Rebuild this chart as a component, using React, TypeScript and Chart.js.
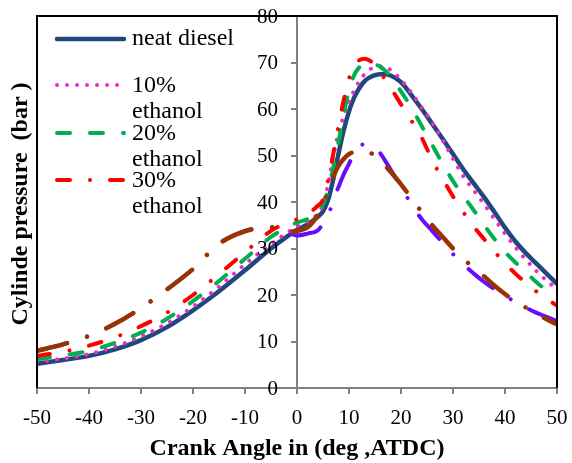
import React, { useEffect, useRef } from "react";
import { Chart, registerables } from "chart.js";

Chart.register(...registerables);

// Crank angle (deg ATDC)
const angles = [-50, -45, -40, -35, -30, -25, -20, -15, -10, -5, -2, 0, 2, 4, 5, 6, 7, 8, 9, 10, 11, 12, 13, 14, 15, 16, 17, 18, 20, 22, 24, 26, 28, 30, 32, 34, 36, 38, 40, 42, 44, 46, 48, 50];

const neatDiesel = [5.2, 6.0, 6.9, 8.3, 10.3, 13.1, 16.7, 20.8, 25.3, 30.0, 32.5, 34.0, 35.2, 36.8, 38.0, 40.5, 45.0, 50.5, 55.5, 59.5, 62.5, 64.5, 66.0, 66.8, 67.3, 67.5, 67.5, 67.2, 65.8, 63.0, 60.0, 56.8, 53.6, 50.3, 47.0, 44.0, 41.0, 37.8, 34.5, 31.5, 29.0, 26.8, 24.6, 22.4];

const ethanol10 = [5.6, 6.3, 7.3, 8.9, 11.1, 13.9, 17.5, 21.8, 26.6, 31.0, 33.3, 34.8, 35.8, 37.5, 39.5, 44.0, 50.0, 55.0, 58.5, 61.5, 64.0, 66.0, 67.5, 68.5, 69.0, 69.2, 69.0, 68.4, 66.3, 63.5, 60.3, 57.0, 53.3, 49.3, 45.5, 42.5, 39.5, 36.3, 33.2, 30.3, 27.6, 25.2, 23.1, 21.2];

const ethanol20 = [6.2, 7.0, 8.0, 9.7, 11.9, 14.9, 18.7, 23.0, 27.8, 32.5, 34.5, 35.6, 36.3, 37.8, 39.5, 42.5, 47.5, 53.0, 59.0, 64.0, 67.3, 69.0, 69.8, 69.8, 69.6, 69.1, 68.2, 67.0, 63.8, 60.3, 56.3, 52.3, 48.2, 44.5, 41.3, 38.2, 35.0, 32.0, 29.3, 27.0, 24.9, 22.8, 21.0, 19.4];

const ethanol30 = [6.9, 7.8, 9.1, 10.9, 13.3, 16.2, 20.0, 24.5, 29.2, 33.8, 35.5, 36.3, 37.4, 39.2, 40.5, 44.8, 50.5, 56.5, 62.0, 66.5, 69.3, 70.5, 70.8, 70.4, 69.4, 67.9, 66.3, 64.6, 61.0, 57.5, 53.8, 49.0, 45.0, 41.2, 37.8, 34.7, 32.0, 29.3, 26.8, 24.6, 22.6, 20.8, 19.2, 17.7];

const violetSeries = [8.0, 9.4, 11.2, 13.8, 17.2, 21.2, 25.6, 31.0, 33.8, 34.6, 33.5, 32.8, 33.2, 33.9, 35.3, 37.0, 40.5, 43.3, 46.0, 48.2, 50.5, 52.0, 52.4, 52.2, 51.5, 50.5, 48.8, 47.0, 43.3, 39.5, 36.3, 33.8, 31.2, 28.8, 26.6, 24.6, 22.8, 21.2, 19.8, 18.5, 17.3, 16.2, 15.3, 14.4];

const brownSeries = [8.0, 9.4, 11.2, 13.8, 17.2, 21.2, 25.6, 31.0, 33.7, 34.6, 33.6, 33.8, 34.5, 37.2, 39.5, 42.5, 45.5, 47.8, 49.3, 50.3, 50.8, 51.0, 50.9, 50.6, 50.0, 49.0, 47.8, 46.5, 43.8, 40.8, 37.8, 35.0, 32.5, 30.0, 27.8, 25.8, 24.0, 22.0, 20.2, 18.6, 17.3, 16.0, 14.8, 13.7];

const yTickValues = [0, 10, 20, 30, 40, 50, 60, 70, 80];
const legendLabels = [["neat diesel"], ["10%", "ethanol"], ["20%", "ethanol"], ["30%", "ethanol"]];
const xTitle = "Crank Angle in (deg ,ATDC)";
const yTitle = "Cylinde pressure  (bar )";

const SERIF = '"Liberation Serif", "Times New Roman", serif';

type Style = { color: string; width: number; dash: number[]; label: string[] | null; order: number };
const styles: Style[] = [
  { color: "#1F497D", width: 4.5, dash: [], label: legendLabels[0], order: 6 },
  { color: "#EE2CC4", width: 4, dash: [0.01, 10], label: legendLabels[1], order: 5 },
  { color: "#00B050", width: 4, dash: [13, 20], label: legendLabels[2], order: 4 },
  { color: "#FF0000", width: 4, dash: [13, 20, 0.01, 20], label: legendLabels[3], order: 3 },
  { color: "#6A0DFF", width: 4, dash: [31, 21, 0.01, 21], label: null, order: 2 },
  { color: "#993300", width: 4.5, dash: [31, 21, 0.01, 21], label: null, order: 1 },
];
const seriesValues = [neatDiesel, ethanol10, ethanol20, ethanol30, violetSeries, brownSeries];

const decorPlugin = {
  id: "decor",
  afterDraw(chart: any) {
    const { ctx, chartArea } = chart;
    const { left, right, top, bottom } = chartArea;
    ctx.save();
    // frame (left, top, right)
    ctx.strokeStyle = "#000";
    ctx.lineWidth = 2;
    ctx.setLineDash([]);
    ctx.beginPath();
    ctx.moveTo(left, bottom);
    ctx.lineTo(left, top);
    ctx.lineTo(right, top);
    ctx.lineTo(right, bottom);
    ctx.stroke();

    // y tick labels (left of the axis at x = 0)
    const ax = chart.scales.x.getPixelForValue(0);
    ctx.fillStyle = "#000";
    ctx.font = `21px ${SERIF}`;
    ctx.textAlign = "right";
    ctx.textBaseline = "middle";
    yTickValues.forEach((v) => {
      ctx.fillText(String(v), ax - 19, chart.scales.y.getPixelForValue(v) + 1);
    });

    // y title
    ctx.save();
    ctx.font = `bold 24px ${SERIF}`;
    ctx.translate(21, (top + bottom) / 2 + 2);
    ctx.rotate(-Math.PI / 2);
    ctx.textAlign = "center";
    ctx.textBaseline = "middle";
    ctx.fillText(yTitle, 0, 0);
    ctx.restore();

    // legend
    const lineY = [39, 85, 133, 180];
    const textY = [39, 86, 134, 181];
    let k = 0;
    styles.forEach((s) => {
      if (!s.label) return;
      ctx.save();
      ctx.strokeStyle = s.color;
      ctx.lineWidth = s.width;
      ctx.lineCap = "round";
      ctx.setLineDash(s.dash);
      ctx.beginPath();
      ctx.moveTo(57, lineY[k]);
      ctx.lineTo(124, lineY[k]);
      ctx.stroke();
      ctx.restore();
      ctx.fillStyle = "#000";
      ctx.font = `24px ${SERIF}`;
      ctx.textAlign = "left";
      ctx.textBaseline = "middle";
      s.label.forEach((t, i) => ctx.fillText(t, 132, textY[k] + i * 26));
      k++;
    });
    ctx.restore();
  },
};

export default function App() {
  const ref = useRef<HTMLCanvasElement | null>(null);
  useEffect(() => {
    if (!ref.current) return;
    const chart = new Chart(ref.current, {
      type: "line",
      data: {
        datasets: styles.map((s, i) => ({
          label: s.label ? s.label.join(" ") : "",
          data: angles.map((a, j) => ({ x: a, y: seriesValues[i][j] })),
          borderColor: s.color,
          backgroundColor: s.color,
          borderWidth: s.width,
          borderDash: s.dash,
          borderCapStyle: "round",
          borderJoinStyle: "round",
          pointRadius: 0,
          cubicInterpolationMode: "monotone",
          fill: false,
          order: s.order,
        })),
      },
      options: {
        responsive: false,
        animation: false,
        layout: { padding: { left: 37, right: 15, top: 16, bottom: 0 } },
        plugins: { legend: { display: false }, tooltip: { enabled: false } },
        scales: {
          x: {
            type: "linear",
            min: -50,
            max: 50,
            afterFit: (scale: any) => {
              scale.height = 75;
              scale.paddingLeft = 0;
              scale.paddingRight = 0;
            },
            ticks: { stepSize: 10, color: "#000", font: { family: SERIF, size: 21 }, padding: 12, maxRotation: 0 },
            grid: { drawOnChartArea: false, drawTicks: true, tickLength: 6, color: "#808080", lineWidth: 2 },
            border: { color: "#808080", width: 2 },
            title: { display: true, text: xTitle, color: "#000", font: { family: SERIF, size: 24, weight: "bold" }, padding: { top: 0, bottom: 0 } },
          },
          y: {
            type: "linear",
            position: { x: 0 } as any,
            min: 0,
            max: 80,
            afterFit: (scale: any) => {
              scale.width = 0;
            },
            ticks: { stepSize: 10, display: false },
            grid: { drawOnChartArea: false, drawTicks: true, tickLength: 5, color: "#808080", lineWidth: 2 },
            border: { color: "#808080", width: 2 },
          },
        },
      },
      plugins: [decorPlugin],
    } as any);
    return () => chart.destroy();
  }, []);
  return (
    <div style={{ position: "fixed", left: 0, top: 0, width: 572, height: 463, background: "#fff" }}>
      <canvas ref={ref} width={572} height={463} />
    </div>
  );
}
